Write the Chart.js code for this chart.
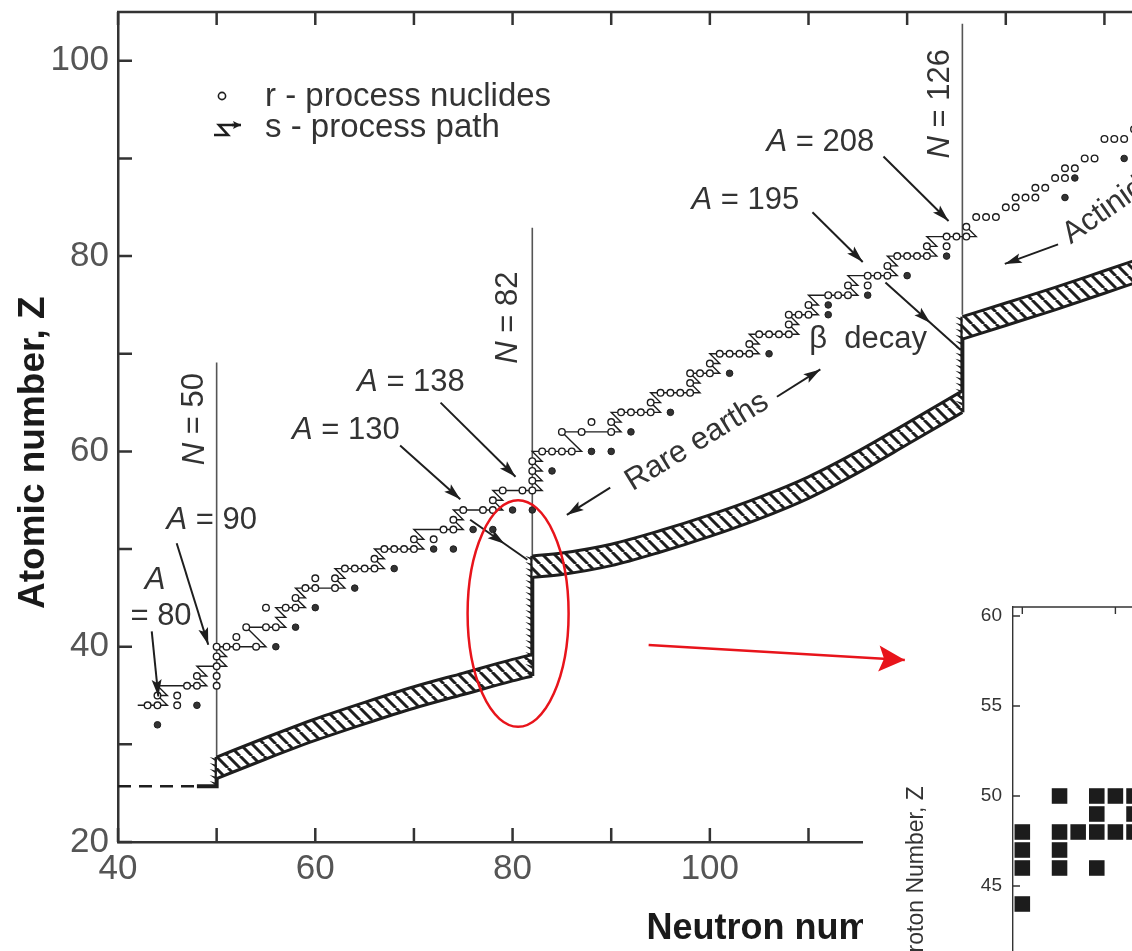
<!DOCTYPE html>
<html>
<head>
<meta charset="utf-8">
<script src="https://cdn.jsdelivr.net/npm/chart.js@4.4.1/dist/chart.umd.min.js"></script>
<style>
  html, body { margin: 0; padding: 0; background: #fff; overflow: hidden; }
  #page { position: relative; width: 1132px; height: 951px; overflow: hidden; background: #fff; }
  #main { position: absolute; left: 0; top: 0; }
  #inset { position: absolute; left: 640px; top: 590px; }
</style>
</head>
<body>
<div id="page">
  <canvas id="main" width="1520" height="951"></canvas>
  <canvas id="inset" width="800" height="610"></canvas>
</div>
<script>
const FONT = "'Liberation Sans', Arial, sans-serif";
const INK = '#1e1e1e';

// axis ticks
const xTicks = [40, 50, 60, 70, 80, 90, 100, 110, 120, 130, 140, 150, 160, 170];
const yTicks = [20, 30, 40, 50, 60, 70, 80, 90, 100];
const insetXTicks = [75, 80, 85, 90, 95];
const insetYTicks = [35, 40, 45, 50, 55, 60];

// s-process path, [N, Z] corners of the zigzag
const sPath = [
  [42,34],[45,34],[44,35],[45,35],[44,36],[49,36],[48,37],[49,37],[48,38],[51,38],[50,39],[51,39],
  [50,40],[55,40],[54,41],[53,42],[57,42],[56,43],[57,43],[56,44],[59,44],[58,45],[59,45],[58,46],
  [63,46],[62,47],[63,47],[62,48],[67,48],[66,49],[67,49],[66,50],[71,50],[70,51],[71,51],[70,52],
  [75,52],[74,53],[75,53],[74,54],[79,54],[78,55],[79,55],[78,56],[83,56],[82,57],[83,57],[82,58],
  [83,58],[82,59],[83,59],[82,60],[87,60],[86,61],[85,62],[91,62],[90,63],[91,63],[90,64],[95,64],
  [94,65],[95,65],[94,66],[99,66],[98,67],[99,67],[98,68],[101,68],[100,69],[101,69],[100,70],
  [105,70],[104,71],[105,71],[104,72],[109,72],[108,73],[109,73],[108,74],[111,74],[110,75],
  [111,75],[110,76],[115,76],[114,77],[115,77],[114,78],[119,78],[118,79],[119,79],[118,80],
  [123,80],[122,81],[123,81],[122,82],[127,82],[126,83]
];

// r-process nuclides along the path [N, Z]
const rNuclides = [
  [43,34],[44,34],[46,34],[44,35],[46,35],[47,36],[48,36],[50,36],[48,37],[50,37],[50,38],[50,39],
  [50,40],[51,40],[52,40],[54,40],[52,41],[53,42],[55,42],[56,42],[55,44],[57,44],[58,44],[58,45],
  [59,46],[60,46],[62,46],[60,47],[62,47],[63,48],[64,48],[65,48],[66,48],[66,49],
  [67,50],[68,50],[69,50],[70,50],[70,51],[72,51],[73,52],[74,52],[74,53],[75,54],[77,54],[78,54],
  [78,55],[79,56],[81,56],[82,56],[82,57],[82,58],[82,59],[83,60],[84,60],[85,60],[86,60],
  [85,62],[87,62],[90,62],[88,63],[90,63],[91,64],[92,64],[93,64],[94,64],[94,65],
  [95,66],[96,66],[97,66],[98,66],[98,67],[98,68],[99,68],[100,68],[100,69],
  [101,70],[102,70],[103,70],[104,70],[104,71],[105,72],[106,72],[107,72],[108,72],[108,73],
  [108,74],[109,74],[110,74],[110,75],[112,76],[113,76],[114,76],[114,77],[116,77],
  [116,78],[117,78],[118,78],[118,79],[119,80],[120,80],[121,80],[122,80],[122,81],[124,81],
  [124,82],[125,82],[126,82],[126,83]
];

// heavier nuclides past N = 126 [N, Z]
const rHeavy = [
  [127,84],[128,84],[129,84],[130,85],[131,85],[131,86],[132,86],[133,86],[133,87],[134,87],
  [135,88],[136,88],[136,89],[137,89],[138,90],[139,90],[140,92],[141,92],[142,92],[143,93]
];

// r-only nuclides, shielded from the s-process [N, Z]
const rOnly = [
  [44,32],[48,34],[56,40],[58,42],[60,44],[64,46],[68,48],[72,50],[74,50],[76,52],[78,52],
  [80,54],[82,54],[84,58],[88,60],[90,60],[92,62],[96,64],[102,68],[106,70],[112,74],[112,75],
  [116,76],[120,78],[124,80],[136,86],[137,88],[142,90]
];

// r-process path band: N, upper Z edge, lower Z edge
const bandA_N  = [50, 55, 60, 65, 70, 75, 80, 82];
const bandA_hi = [28.7, 30.7, 32.6, 34.3, 35.9, 37.3, 38.7, 39.2];
const bandA_lo = [26.5, 28.5, 30.4, 32.1, 33.7, 35.1, 36.5, 37.0];
const bandB_N  = [82, 85, 90, 95, 100, 105, 110, 115, 120, 125.6];
const bandB_hi = [49.3, 49.6, 50.5, 51.9, 53.5, 55.3, 57.4, 60.0, 62.9, 66.2];
const bandB_lo = [47.1, 47.4, 48.3, 49.7, 51.3, 53.1, 55.2, 57.8, 60.7, 64.0];
const bandC_N  = [125.6, 130, 135, 140, 145, 150, 160];
const bandC_hi = [73.8, 75.2, 76.8, 78.5, 80.2, 81.8, 84.8];
const bandC_lo = [71.5, 72.9, 74.5, 76.2, 77.9, 79.5, 82.5];

// seed line and the climbs at the closed shells [N, Z]
const seedLine = [[40, 25.7], [48, 25.7]];
const climb50  = [[48, 25.7], [50, 25.7], [50, 28.7]];
const climb82  = [[82, 37.0], [82, 49.3]];
const climb126 = [[125.6, 64.0], [125.6, 73.8]];

// closed neutron shells: N, Z from, Z to
const magicN    = [50, 82, 125.6];
const magicFrom = [28.6, 48.9, 74.0];
const magicTo   = [69.1, 82.9, 103.8];

// inset: occupied cells [N, Z]
const insetCells = [
  [75,48],[75,47],[75,46],[75,44],[77,50],[77,48],[77,47],[77,46],[78,48],
  [79,50],[79,49],[79,48],[79,46],[80,50],[80,48],[81,50],[81,49],[81,48]
];

// annotations (data coordinates)
const texts = [
  { parts: [['N', 1], [' = 50']], n: 47.8, z: 63.3, rot: -90 },
  { parts: [['N', 1], [' = 82']], n: 79.55, z: 73.7, rot: -90 },
  { parts: [['N', 1], [' = 126']], n: 123.35, z: 95.6, rot: -90 },
  { parts: [['A', 1]], n: 43.75, z: 46.8 },
  { parts: [['= 80']], n: 44.36, z: 43.1 },
  { parts: [['A', 1], [' = 90']], n: 49.5, z: 52.9 },
  { parts: [['A', 1], [' = 130']], n: 63.1, z: 62.15 },
  { parts: [['A', 1], [' = 138']], n: 69.7, z: 67.05 },
  { parts: [['A', 1], [' = 195']], n: 103.6, z: 85.7 },
  { parts: [['A', 1], [' = 208']], n: 111.2, z: 91.65 },
  { parts: [['\u03b2  decay']], n: 116.05, z: 71.5 },
  { parts: [['Rare earths']], n: 98.7, z: 61.0, rot: -31.5 },
  { parts: [['Actinides']], n: 136.1, z: 81.9, rot: -35, left: true }
];
const arrows = [
  { from: [43.42, 41.56], to: [44.09, 34.9] },
  { from: [45.95, 50.6], to: [49.15, 40.2] },
  { from: [68.6, 60.6], to: [74.7, 55.1] },
  { from: [72.7, 65.0], to: [80.3, 57.4] },
  { from: [110.4, 84.5], to: [115.5, 79.4] },
  { from: [117.6, 90.2], to: [124.2, 83.6] },
  { from: [89.9, 56.3], to: [85.5, 53.5] },
  { from: [106.8, 65.6], to: [111.2, 68.4] },
  { from: [135.3, 81.2], to: [129.9, 79.2] },
  { from: [75.7, 53.0], to: [81.5, 48.9], mid: true },
  { from: [117.8, 77.3], to: [125.4, 70.4], mid: true }
];
const redRing = { n: 80.56, z: 43.4, dn: 5.12, dz: 11.6 };
const redArrow = { from: [54.93, 58.39], to: [68.69, 57.56] };

const pts = arr => arr.map(([x, y]) => ({ x, y }));
const edge = (ns, zs) => ns.map((n, i) => ({ x: n, y: zs[i] }));

function hatchPattern() {
  const s = 12, c = document.createElement('canvas');
  c.width = s; c.height = s;
  const g = c.getContext('2d');
  g.fillStyle = '#fff';
  g.fillRect(0, 0, s, s);
  g.strokeStyle = INK;
  g.lineWidth = 3;
  g.beginPath();
  for (let k = -1; k <= 1; k++) { g.moveTo(k * s, 0); g.lineTo(k * s + s, s); }
  g.stroke();
  return g.createPattern(c, 'repeat');
}
const hatch = hatchPattern();

function drawParts(ctx, parts, x, y, size, rot, left) {
  ctx.save();
  ctx.translate(x, y);
  ctx.rotate((rot || 0) * Math.PI / 180);
  ctx.textBaseline = 'middle';
  ctx.textAlign = 'left';
  const fonts = parts.map(p => (p[1] ? 'italic ' : '') + size + 'px ' + FONT);
  const widths = parts.map((p, i) => { ctx.font = fonts[i]; return ctx.measureText(p[0]).width; });
  let cx = left ? 0 : -widths.reduce((a, b) => a + b, 0) / 2;
  parts.forEach((p, i) => { ctx.font = fonts[i]; ctx.fillText(p[0], cx, 0); cx += widths[i]; });
  ctx.restore();
}

function drawArrow(ctx, x1, y1, x2, y2, mid, L, W) {
  ctx.beginPath();
  ctx.moveTo(x1, y1);
  ctx.lineTo(x2, y2);
  ctx.stroke();
  const a = Math.atan2(y2 - y1, x2 - x1);
  const t = mid ? 0.6 : 1;
  const hx = x1 + (x2 - x1) * t, hy = y1 + (y2 - y1) * t;
  const c = Math.cos(a), s = Math.sin(a);
  ctx.beginPath();
  ctx.moveTo(hx, hy);
  ctx.lineTo(hx - L * c + W * s, hy - L * s - W * c);
  ctx.lineTo(hx - 0.8 * L * c, hy - 0.8 * L * s);
  ctx.lineTo(hx - L * c - W * s, hy - L * s + W * c);
  ctx.closePath();
  ctx.fill();
}

// keep the plot box exactly where the axes say, no label overhang padding
const pinScale = size => s => {
  if (s.isHorizontal()) s.height = size; else s.width = size;
  s.paddingTop = 0; s.paddingBottom = 0; s.paddingLeft = 0; s.paddingRight = 0;
};

const lineSet = (data, extra) => Object.assign(
  { data, borderColor: INK, borderWidth: 3, pointRadius: 0, fill: false, order: 2 }, extra);

const figureDecor = {
  id: 'figureDecor',
  beforeDatasetsDraw(chart) {
    const { ctx, scales: { x, y } } = chart;
    ctx.save();
    ctx.strokeStyle = '#555';
    ctx.lineWidth = 1.6;
    magicN.forEach((n, i) => {
      ctx.beginPath();
      ctx.moveTo(x.getPixelForValue(n), y.getPixelForValue(magicFrom[i]));
      ctx.lineTo(x.getPixelForValue(n), y.getPixelForValue(magicTo[i]));
      ctx.stroke();
    });
    ctx.restore();
  },
  afterDatasetsDraw(chart) {
    const { ctx, chartArea: ca, scales: { x, y } } = chart;
    ctx.save();
    // teeth on the shell climbs
    ctx.fillStyle = INK;
    chart.data.datasets.forEach((ds, i) => {
      if (!ds.teeth) return;
      const p = chart.getDatasetMeta(i).data;
      for (let k = 1; k < p.length; k++) {
        if (Math.abs(p[k].x - p[k - 1].x) > 1) continue;
        const y0 = Math.min(p[k].y, p[k - 1].y), y1 = Math.max(p[k].y, p[k - 1].y);
        ctx.beginPath();
        for (let yy = y0 + 2; yy < y1 - 2; yy += 6) {
          ctx.moveTo(p[k].x, yy);
          ctx.lineTo(p[k].x - 7, yy - 2);
          ctx.lineTo(p[k].x, yy + 3);
        }
        ctx.fill();
      }
    });

    // top frame and inward ticks
    ctx.strokeStyle = '#333';
    ctx.lineWidth = 2.5;
    ctx.beginPath();
    ctx.moveTo(ca.left - 1, ca.top);
    ctx.lineTo(ca.right, ca.top);
    xTicks.forEach(v => {
      const px = x.getPixelForValue(v);
      ctx.moveTo(px, ca.bottom); ctx.lineTo(px, ca.bottom - 14);
      ctx.moveTo(px, ca.top); ctx.lineTo(px, ca.top + 13);
    });
    yTicks.forEach(v => {
      const py = y.getPixelForValue(v);
      ctx.moveTo(ca.left, py); ctx.lineTo(ca.left + 14, py);
    });
    ctx.stroke();

    // annotation texts
    ctx.fillStyle = '#333';
    texts.forEach(t => drawParts(ctx, t.parts, x.getPixelForValue(t.n), y.getPixelForValue(t.z), 31, t.rot, t.left));

    // arrows
    ctx.strokeStyle = INK;
    ctx.fillStyle = INK;
    ctx.lineWidth = 2;
    arrows.forEach(a => drawArrow(ctx,
      x.getPixelForValue(a.from[0]), y.getPixelForValue(a.from[1]),
      x.getPixelForValue(a.to[0]), y.getPixelForValue(a.to[1]), a.mid, 17, 5));

    // legend
    const lx = ca.left, ly = ca.top;
    ctx.lineWidth = 1.6;
    ctx.beginPath();
    ctx.arc(lx + 104, ly + 84, 3.6, 0, Math.PI * 2);
    ctx.stroke();
    ctx.lineWidth = 2.6;
    ctx.beginPath();
    ctx.moveTo(lx + 96, ly + 123);
    ctx.lineTo(lx + 110, ly + 123);
    ctx.lineTo(lx + 101, ly + 113);
    ctx.lineTo(lx + 116, ly + 113);
    ctx.stroke();
    drawArrow(ctx, lx + 114, ly + 113, lx + 123, ly + 113, false, 8, 4);
    ctx.fillStyle = '#333';
    ctx.font = '33px ' + FONT;
    ctx.textBaseline = 'middle';
    ctx.textAlign = 'left';
    ctx.fillText('r - process nuclides', lx + 147, ly + 85);
    ctx.fillText('s - process path', lx + 147, ly + 116);

    // red ring
    ctx.strokeStyle = '#e8141b';
    ctx.lineWidth = 2.5;
    ctx.beginPath();
    ctx.ellipse(x.getPixelForValue(redRing.n), y.getPixelForValue(redRing.z),
      x.getPixelForValue(redRing.n + redRing.dn) - x.getPixelForValue(redRing.n),
      y.getPixelForValue(redRing.z) - y.getPixelForValue(redRing.z + redRing.dz), 0, 0, Math.PI * 2);
    ctx.stroke();
    ctx.restore();
  }
};

const tickFont = { family: FONT, size: 35 };
const mainChart = new Chart(document.getElementById('main'), {
  type: 'line',
  data: {
    datasets: [
      lineSet(edge(bandA_N, bandA_lo), { cubicInterpolationMode: 'monotone' }),
      lineSet(edge(bandA_N, bandA_hi), { cubicInterpolationMode: 'monotone', fill: '-1', backgroundColor: hatch }),
      lineSet(edge(bandB_N, bandB_lo), { cubicInterpolationMode: 'monotone' }),
      lineSet(edge(bandB_N, bandB_hi), { cubicInterpolationMode: 'monotone', fill: '-1', backgroundColor: hatch }),
      lineSet(edge(bandC_N, bandC_lo), { cubicInterpolationMode: 'monotone' }),
      lineSet(edge(bandC_N, bandC_hi), { cubicInterpolationMode: 'monotone', fill: '-1', backgroundColor: hatch }),
      lineSet(pts(seedLine), { borderWidth: 2.5, borderDash: [13, 8] }),
      lineSet(pts(climb50), { borderWidth: 4, teeth: true }),
      lineSet(pts(climb82), { borderWidth: 4, teeth: true }),
      lineSet(pts(climb126), { borderWidth: 4, teeth: true }),
      { label: 's - process path', data: pts(sPath), borderColor: INK, borderWidth: 1.4, pointRadius: 0, fill: false, order: 1 },
      { label: 'r - process nuclides', data: pts(rNuclides.concat(rHeavy)), showLine: false, pointRadius: 3.3,
        pointBorderWidth: 1.4, pointBorderColor: INK, pointBackgroundColor: '#fff', order: 0 },
      { label: 'r-only', data: pts(rOnly), showLine: false, pointRadius: 3.3,
        pointBorderWidth: 1, pointBorderColor: INK, pointBackgroundColor: '#333', order: 0 }
    ]
  },
  options: {
    responsive: false,
    animation: false,
    layout: { padding: { top: 12, right: 21, left: 0, bottom: 0 } },
    plugins: { legend: { display: false }, tooltip: { enabled: false } },
    scales: {
      x: {
        type: 'linear', min: 40, max: 180,
        afterBuildTicks: s => { s.ticks = xTicks.map(v => ({ value: v })); },
        afterFit: pinScale(109),
        grid: { display: false, drawTicks: false },
        border: { display: true, color: '#333', width: 2.5 },
        ticks: { autoSkip: false, maxRotation: 0, padding: 6, color: '#555', font: tickFont,
          callback: v => (v % 20 === 0 ? String(v) : '') },
        title: { display: true, text: 'Neutron number, N', color: '#1a1a1a',
          font: { family: FONT, size: 36, weight: 'bold' }, padding: { top: 0, bottom: 0 } }
      },
      y: {
        type: 'linear', min: 20, max: 105,
        afterBuildTicks: s => { s.ticks = yTicks.map(v => ({ value: v })); },
        afterFit: pinScale(118),
        grid: { display: false, drawTicks: false },
        border: { display: true, color: '#333', width: 2.5 },
        ticks: { autoSkip: false, padding: 9, color: '#555', font: tickFont,
          callback: v => (v % 20 === 0 ? String(v) : '') },
        title: { display: true, text: 'Atomic number, Z' + '\u00a0'.repeat(5), color: '#1a1a1a',
          font: { family: FONT, size: 37, weight: 'bold' }, padding: { top: 12, bottom: 0 } }
      }
    }
  },
  plugins: [figureDecor]
});

// inset: zoom on the N = 82 climb
const insetDecor = {
  id: 'insetDecor',
  beforeDraw(chart) {
    const { ctx, width, height } = chart;
    ctx.save();
    ctx.fillStyle = '#fff';
    ctx.fillRect(223, 0, width - 223, height);
    ctx.restore();
  },
  afterDraw(chart) {
    const { ctx, chartArea: ca, scales: { x, y } } = chart;
    ctx.save();
    ctx.strokeStyle = '#333';
    ctx.lineWidth = 1.4;
    ctx.beginPath();
    ctx.moveTo(ca.left, ca.top);
    ctx.lineTo(ca.right, ca.top);
    insetXTicks.forEach(v => {
      const px = x.getPixelForValue(v);
      ctx.moveTo(px, ca.top); ctx.lineTo(px, ca.top + 7);
    });
    insetYTicks.forEach(v => {
      const py = y.getPixelForValue(v);
      ctx.moveTo(ca.left, py); ctx.lineTo(ca.left + 7, py);
    });
    ctx.stroke();
    ctx.strokeStyle = '#e8141b';
    ctx.fillStyle = '#e8141b';
    ctx.lineWidth = 2.5;
    drawArrow(ctx, x.getPixelForValue(redArrow.from[0]), y.getPixelForValue(redArrow.from[1]),
      x.getPixelForValue(redArrow.to[0]), y.getPixelForValue(redArrow.to[1]), false, 26, 13);
    ctx.restore();
  }
};

const insetChart = new Chart(document.getElementById('inset'), {
  type: 'line',
  data: {
    datasets: [{ data: pts(insetCells), showLine: false, pointStyle: 'rect', pointRadius: 11,
      pointBorderWidth: 0, pointBorderColor: '#1c1c1c', pointBackgroundColor: '#1c1c1c' }]
  },
  options: {
    responsive: false,
    animation: false,
    layout: { padding: { left: 223, top: 17, right: 36, bottom: 0 } },
    plugins: { legend: { display: false }, tooltip: { enabled: false } },
    scales: {
      x: {
        type: 'linear', min: 74.5, max: 95.5,
        afterBuildTicks: s => { s.ticks = insetXTicks.map(v => ({ value: v })); },
        afterFit: pinScale(53),
        grid: { display: false, drawTicks: false },
        border: { display: true, color: '#333', width: 1.4 },
        ticks: { color: '#333', font: { family: FONT, size: 19 }, padding: 8 }
      },
      y: {
        type: 'linear', min: 30.5, max: 60.5,
        afterBuildTicks: s => { s.ticks = insetYTicks.map(v => ({ value: v })); },
        afterFit: pinScale(150),
        grid: { display: false, drawTicks: false },
        border: { display: true, color: '#333', width: 1.4 },
        ticks: { color: '#333', font: { family: FONT, size: 19 }, padding: 11 },
        title: { display: true, text: 'Proton Number, Z', color: '#333',
          font: { family: FONT, size: 23 }, padding: { top: 40, bottom: 0 } }
      }
    }
  },
  plugins: [insetDecor]
});
</script>
</body>
</html>
